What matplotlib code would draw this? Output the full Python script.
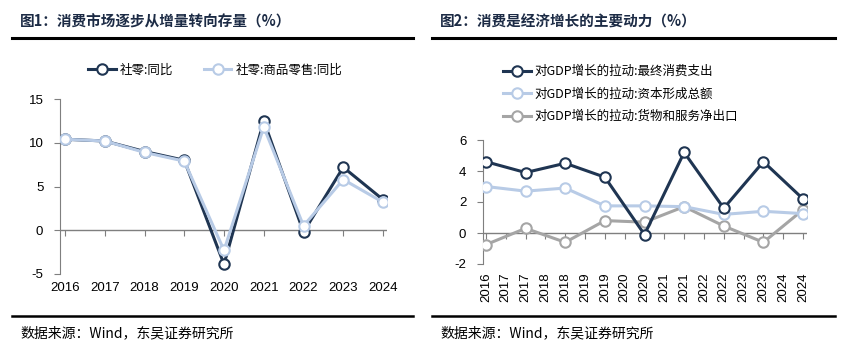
import matplotlib.pyplot as plt
from matplotlib.lines import Line2D

plt.rcParams['font.family'] = ['Noto Sans CJK SC', 'DejaVu Sans']
plt.rcParams['axes.unicode_minus'] = False

# chart 1: retail sales growth
years1 = [2016, 2017, 2018, 2019, 2020, 2021, 2022, 2023, 2024]
retail_total = [10.4, 10.2, 9.0, 8.0, -3.9, 12.5, -0.2, 7.2, 3.5]
retail_goods = [10.4, 10.2, 8.9, 7.9, -2.3, 11.8, 0.5, 5.8, 3.2]

# chart 2: contribution to GDP growth (17 category slots, data on every other one)
cat_labels2 = ['2016', '2017', '2017', '2018', '2018', '2019', '2019', '2020', '2020',
               '2021', '2021', '2022', '2022', '2023', '2023', '2024', '2024']
consumption = [4.6, 3.9, 4.5, 3.6, -0.1, 5.2, 1.6, 4.6, 2.2]
capital = [3.0, 2.7, 2.9, 1.75, 1.75, 1.7, 1.2, 1.4, 1.25]
net_export = [-0.75, 0.3, -0.6, 0.8, 0.7, 1.7, 0.45, -0.6, 1.5]

NAVY = '#1f3552'
LIGHT = '#b8cbe6'
GRAY = '#a5a5a5'
AXIS = '#7f7f7f'
TITLE_C = '#1c2b45'
tick_font = {'family': ['Liberation Sans', 'DejaVu Sans'], 'size': 9.5}

fig = plt.figure(figsize=(8.51, 3.51), dpi=100)
W, H = 851, 351


def fx(px):
    return px / W


def fy(py):
    return 1 - py / H


mk = dict(marker='o', markersize=7.5, markerfacecolor='white', markeredgewidth=1.5)

# ---------------- left chart ----------------
ax1 = fig.add_axes([fx(60), fy(274), fx(327), 175 / H])
ax1.plot(years1, retail_total, color=NAVY, lw=2.2, markeredgecolor=NAVY, zorder=4, **mk)
ax1.plot(years1, retail_goods, color=LIGHT, lw=2.2, markeredgecolor=LIGHT, zorder=5, **mk)
ax1.set_xlim(2015.874, 2024.1)
ax1.set_ylim(-5, 15)
ax1.set_yticks([-5, 0, 5, 10, 15])
for s in ['top', 'right', 'bottom']:
    ax1.spines[s].set_visible(False)
ax1.spines['left'].set_color(AXIS)
ax1.set_xticks(years1)
ax1.set_xticklabels([str(y) for y in years1], fontdict=tick_font)
ax1.tick_params(axis='x', length=0, pad=6)
ax1.tick_params(axis='y', length=4, color=AXIS, pad=8)
for lab in ax1.get_yticklabels():
    lab.set_fontproperties('Liberation Sans')
    lab.set_fontsize(9.5)
ax1.axhline(0, color=AXIS, lw=1, zorder=1)
sec1 = ax1.secondary_xaxis(0, transform=ax1.transData)
sec1.set_xticks(years1)
sec1.set_xticklabels([])
sec1.tick_params(length=4, color=AXIS)
sec1.spines['bottom'].set_visible(False)

h1 = [Line2D([], [], color=NAVY, lw=2.2, markeredgecolor=NAVY, **mk),
      Line2D([], [], color=LIGHT, lw=2.2, markeredgecolor=LIGHT, **mk)]
fig.legend(h1, ['社零:同比', '社零:商品零售:同比'], loc='center',
           bbox_to_anchor=(fx(215), fy(70)), ncol=2, frameon=False, fontsize=9,
           handlelength=2.2, columnspacing=2.5, handletextpad=0.3)

# ---------------- right chart ----------------
x2 = list(range(0, 17, 2))
ax2 = fig.add_axes([fx(483), fy(264), fx(324), 124 / H])
ax2.plot(x2, consumption, color=NAVY, lw=2.2, markeredgecolor=NAVY, zorder=5, **mk)
ax2.plot(x2, capital, color=LIGHT, lw=2.2, markeredgecolor=LIGHT, zorder=4, **mk)
ax2.plot(x2, net_export, color=GRAY, lw=2.2, markeredgecolor=GRAY, zorder=3, **mk)
ax2.set_xlim(-0.15, 16.2)
ax2.set_ylim(-2, 6)
ax2.set_yticks([-2, 0, 2, 4, 6])
for s in ['top', 'right', 'bottom']:
    ax2.spines[s].set_visible(False)
ax2.spines['left'].set_color(AXIS)
ax2.set_xticks(range(len(cat_labels2)))
ax2.set_xticklabels(cat_labels2, fontdict=tick_font, rotation=90)
ax2.tick_params(axis='x', length=0, pad=6)
ax2.tick_params(axis='y', length=4, color=AXIS, pad=8)
for lab in ax2.get_yticklabels():
    lab.set_fontproperties('Liberation Sans')
    lab.set_fontsize(9.5)
ax2.axhline(0, color=AXIS, lw=1, zorder=1)
sec2 = ax2.secondary_xaxis(0, transform=ax2.transData)
sec2.set_xticks(range(len(cat_labels2)))
sec2.set_xticklabels([])
sec2.tick_params(length=4, color=AXIS)
sec2.spines['bottom'].set_visible(False)

h2 = [Line2D([], [], color=c, lw=2.2, markeredgecolor=c, **mk) for c in (NAVY, LIGHT, GRAY)]
fig.legend(h2, ['对GDP增长的拉动:最终消费支出', '对GDP增长的拉动:资本形成总额',
                '对GDP增长的拉动:货物和服务净出口'],
           loc='upper left', bbox_to_anchor=(fx(492), fy(54)), ncol=1, frameon=False,
           fontsize=9, handlelength=2.2, handletextpad=0.3, labelspacing=0.75)

# ---------------- titles, rules, sources ----------------
fig.text(fx(20), fy(22), '图1：消费市场逐步从增量转向存量（%）', fontsize=10.5,
         fontweight='bold', color=TITLE_C, va='center')
fig.text(fx(440), fy(22), '图2：消费是经济增长的主要动力（%）', fontsize=10.5,
         fontweight='bold', color=TITLE_C, va='center')
for x0, x1 in [(12, 413), (432, 835)]:
    fig.add_artist(Line2D([fx(x0), fx(x1)], [fy(38), fy(38)], color='black', lw=2.2))
    fig.add_artist(Line2D([fx(x0), fx(x1)], [fy(316), fy(316)], color='black', lw=1.8))
fig.text(fx(20), fy(333), '数据来源：Wind，东吴证券研究所', fontsize=10, va='center')
fig.text(fx(440), fy(333), '数据来源：Wind，东吴证券研究所', fontsize=10, va='center')

fig.savefig('out.png', dpi=100, facecolor='white')
